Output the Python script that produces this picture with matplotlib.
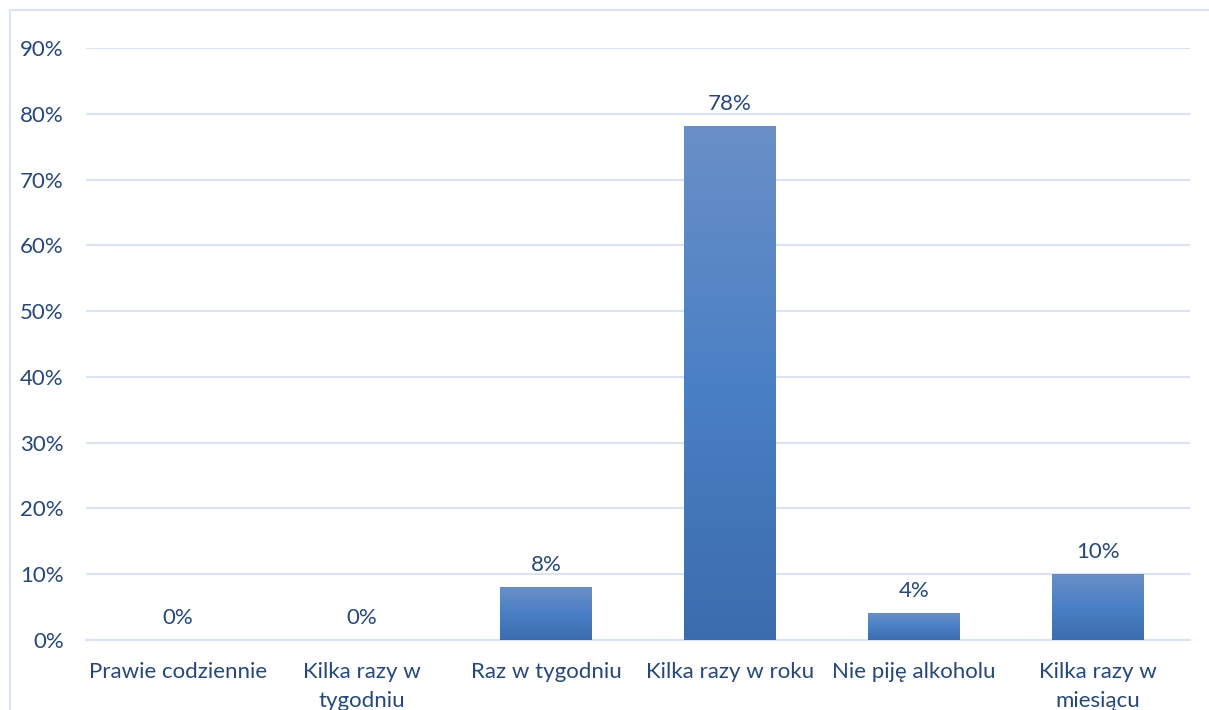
import numpy as np
import matplotlib
matplotlib.use("Agg")
import matplotlib.pyplot as plt
from matplotlib.colors import LinearSegmentedColormap
from matplotlib.patches import Rectangle

categories = ["Prawie codziennie", "Kilka razy w\ntygodniu", "Raz w tygodniu",
              "Kilka razy w roku", "Nie piję alkoholu", "Kilka razy w\nmiesiącu"]
values = [0, 0, 8, 78, 4, 10]

text_col = "#25477a"
grid_col = "#d9e3f3"
grad = LinearSegmentedColormap.from_list("g", ["#3b6cae", "#4a80c5", "#6a8fc7"])

plt.rcParams['font.family'] = ['Lato', 'DejaVu Sans']

fig = plt.figure(figsize=(12.09, 7.10), dpi=100)
# outer chart border
fig.patches.append(Rectangle((10/1209, -0.1), 1.2, 1 - 10/710 + 0.1, transform=fig.transFigure,
                             fill=False, edgecolor=grid_col, linewidth=1.5))
ax = fig.add_axes([86/1209, 1 - 640/710, 1104/1209, 592/710])

x = np.arange(len(categories))
bars = ax.bar(x, values, width=0.5, color="none", zorder=3)
g = np.linspace(0, 1, 256).reshape(-1, 1)
for b, v in zip(bars, values):
    if v > 0:
        ax.imshow(g, cmap=grad, origin="lower", aspect="auto", zorder=3,
                  extent=[b.get_x(), b.get_x() + b.get_width(), 0, v])
    ax.annotate(f"{v}%", (b.get_x() + b.get_width() / 2, v), xytext=(0, 9),
                textcoords="offset points", ha="center", va="bottom",
                fontsize=16, color=text_col)

ax.set_xlim(-0.5, len(categories) - 0.5)
ax.set_ylim(0, 90)
ax.set_yticks(range(0, 91, 10))
ax.set_yticklabels([f"{t}%" for t in range(0, 91, 10)])
ax.set_xticks(x)
ax.set_xticklabels(categories, linespacing=1.55)
ax.tick_params(axis="both", length=0, labelsize=16, labelcolor=text_col)
ax.tick_params(axis="y", pad=16)
ax.tick_params(axis="x", pad=16)
ax.grid(axis="y", color=grid_col, linewidth=1.5, zorder=0)
for s in ["top", "right", "left"]:
    ax.spines[s].set_visible(False)
ax.spines["bottom"].set_color(grid_col)
ax.spines["bottom"].set_linewidth(1.5)

fig.savefig("out.png", dpi=100)
